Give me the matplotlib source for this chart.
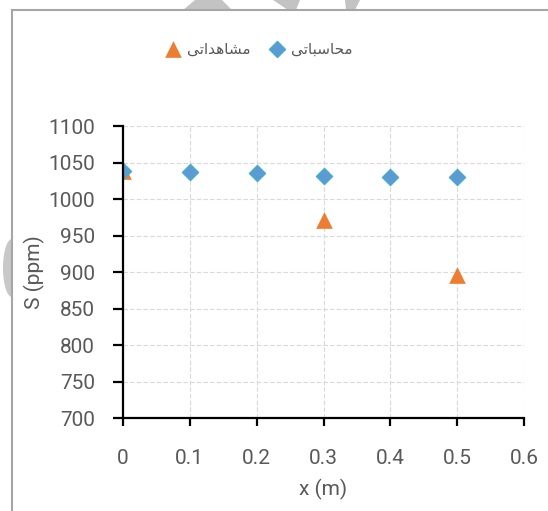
import numpy as np
import matplotlib.pyplot as plt
from matplotlib.lines import Line2D
from matplotlib.patches import Polygon

# داده‌ها
x_calc = [0, 0.1, 0.2, 0.3, 0.4, 0.5]
s_calc = [1039, 1037, 1035, 1032, 1030, 1030]
x_obs = [0, 0.3, 0.5]
s_obs = [1038, 971, 896]

# برچسب‌ها (حروف نمایشی، به ترتیب دیداری)
label_calc = '\ufef0\ufe97\ufe8e\ufe92\ufeb3\ufe8e\ufea4\ufee3'   # محاسباتی
label_obs = '\ufef0\ufe97\ufe8d\ufeaa\ufeeb\ufe8e\ufeb8\ufee3'    # مشاهداتی
x_ticks = [0, 0.1, 0.2, 0.3, 0.4, 0.5, 0.6]
y_ticks = [700, 750, 800, 850, 900, 950, 1000, 1050, 1100]

plt.rcParams['font.family'] = ['Roboto', 'DejaVu Sans']

W, H = 548, 511
fig = plt.figure(figsize=(W / 100, H / 100), dpi=100)
ax = fig.add_axes([123 / W, 1 - 418 / H, (524 - 123) / W, (418 - 126) / H])

ax.scatter(x_obs, s_obs, marker='^', s=12 ** 2, color='#ED7D31', linewidths=0,
           label=label_obs, zorder=3)
ax.scatter(x_calc, s_calc, marker='D', s=8.2 ** 2, color='#5B9BD5',
           edgecolors='#4BACC6', linewidths=1, label=label_calc, zorder=4)

ax.set_xlim(0, 0.6)
ax.set_ylim(700, 1100)
ax.set_xticks(x_ticks)
ax.set_yticks(y_ticks)
ax.set_xticklabels([f'{v:g}' for v in x_ticks])
ax.grid(True, color='#D9D9D9', linestyle=(0, (4, 2)), linewidth=0.8)
ax.set_axisbelow(True)
for sp in ['top', 'right']:
    ax.spines[sp].set_visible(False)
for sp in ['left', 'bottom']:
    ax.spines[sp].set_linewidth(1.6)
    ax.spines[sp].set_color('black')
    ax.spines[sp].set_zorder(5)
ax.tick_params(axis='y', direction='out', length=7, width=1.6, pad=13,
               labelsize=15, labelcolor='#595959')
ax.tick_params(axis='x', direction='out', length=6, width=1.6, pad=16,
               labelsize=15, labelcolor='#595959')

ax.set_xlabel('x (m)', fontsize=15, color='#595959', labelpad=8)
ax.set_ylabel('S (ppm)', fontsize=15, color='#595959')
ax.yaxis.set_label_coords(-0.195, 0.5)

leg = fig.legend(loc='center', bbox_to_anchor=(259 / W, 1 - 49 / H), ncol=2,
                 frameon=False, handlelength=1.0, handletextpad=0.4,
                 columnspacing=1.2,
                 prop={'family': ['DejaVu Sans'], 'size': 11})
for t in leg.get_texts():
    t.set_color('#595959')

# قاب و سایه‌های بالای تصویر
gray = '#C3C3C3'
for pts in [[(183, 10), (232, 10), (222, 0), (195, 0)],
            [(273, 0), (300, 0), (296, 10), (288, 10)],
            [(345, 0), (360, 0), (355, 10), (346, 10)]]:
    fig.add_artist(Polygon([(px / W, 1 - py / H) for px, py in pts], closed=True,
                           transform=fig.transFigure, facecolor=gray,
                           edgecolor='none'))
tt = np.linspace(np.pi / 2, 3 * np.pi / 2, 40)
half = [((12 + 9 * np.cos(a)) / W, 1 - (268 + 29 * np.sin(a)) / H) for a in tt]
fig.add_artist(Polygon(half, closed=True, transform=fig.transFigure,
                       facecolor='#C8C8C8', edgecolor='none'))
fig.add_artist(Line2D([12 / W, 12 / W], [0, 1 - 10 / H], color='#A6A6A6',
                      linewidth=1.5, transform=fig.transFigure))
fig.add_artist(Line2D([12 / W, 1], [1 - 10 / H, 1 - 10 / H], color='#A6A6A6',
                      linewidth=1.5, transform=fig.transFigure))

fig.savefig('out.png', dpi=100)
